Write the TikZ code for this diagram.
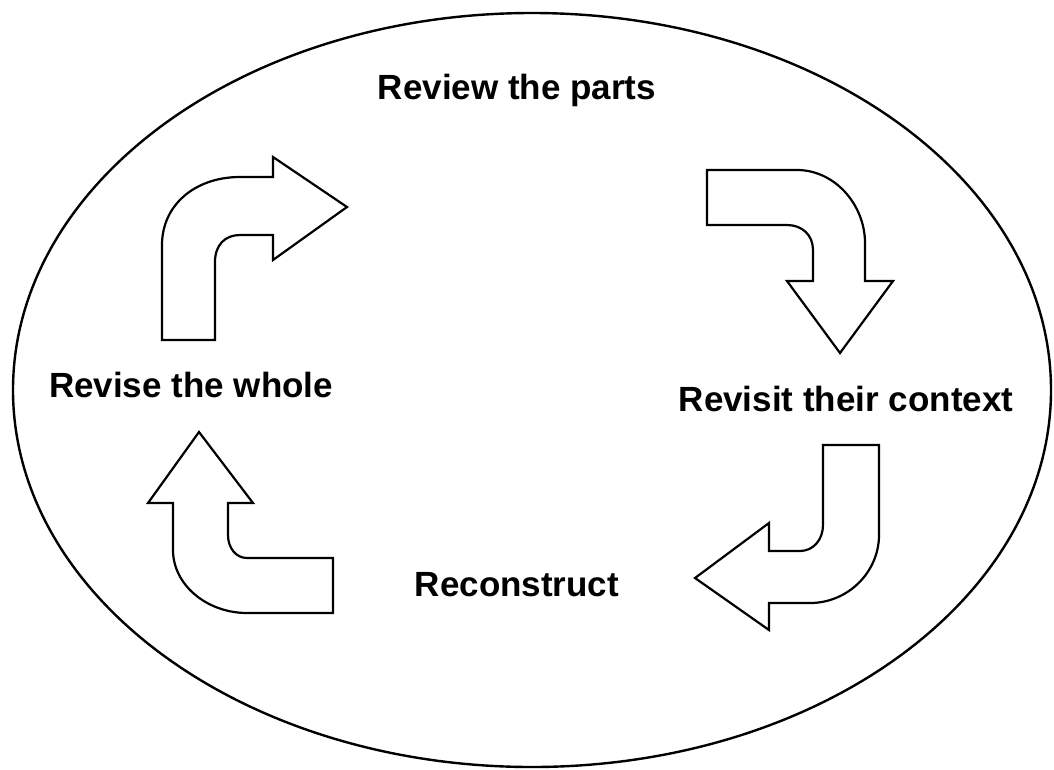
\documentclass[tikz,border=0pt]{standalone}
\usepackage{fontspec}
\setmainfont{Liberation Sans}
\begin{document}
\begin{tikzpicture}[x=1pt,y=-1pt,
  lbl/.style={font=\fontsize{35}{40}\bfseries\selectfont, anchor=base, inner sep=0pt},
  blockarrow/.style={draw=black, line width=2.2pt, fill=white, line join=miter}]
\useasboundingbox (0,0) rectangle (1054,769);
\draw[line width=2.4pt] (532,390) ellipse [x radius=519, y radius=377];
\node[lbl] (review) at (517,99) {Review the parts};
\node[lbl] (revisit) at (846,411) {Revisit their context};
\node[lbl] (recon) at (517,596) {Reconstruct};
\node[lbl] (revise) at (191,397) {Revise the whole};
% arrow: revise -> review
\draw[blockarrow] (162,340) -- (162,245) .. controls (162,205) and (195,177) .. (240,177)
  -- (273,177) -- (273,157) -- (347,207) -- (273,260) -- (273,235) -- (240,235)
  .. controls (225,235) and (215,245) .. (215,262) -- (215,340) -- cycle;
% arrow: review -> revisit
\draw[blockarrow] (707,170) -- (797,170) .. controls (835,170) and (865,205) .. (865,243)
  -- (865,281) -- (893,281) -- (840,353) -- (787,281) -- (813,281) -- (813,250)
  .. controls (813,235) and (802,225) .. (787,225) -- (707,225) -- cycle;
% arrow: revisit -> reconstruct
\draw[blockarrow] (823,445) -- (879,445) -- (879,535) .. controls (879,572) and (848,603) .. (810,603)
  -- (769,603) -- (769,630) -- (695,578) -- (769,523) -- (769,551) -- (800,551)
  .. controls (813,551) and (823,540) .. (823,525) -- cycle;
% arrow: reconstruct -> revise
\draw[blockarrow] (333,613) -- (247,613) .. controls (207,613) and (173,585) .. (173,550)
  -- (173,503) -- (148,503) -- (199,432) -- (253,503) -- (228,503) -- (228,535)
  .. controls (228,548) and (236,558) .. (247,558) -- (333,558) -- cycle;
\end{tikzpicture}
\end{document}
